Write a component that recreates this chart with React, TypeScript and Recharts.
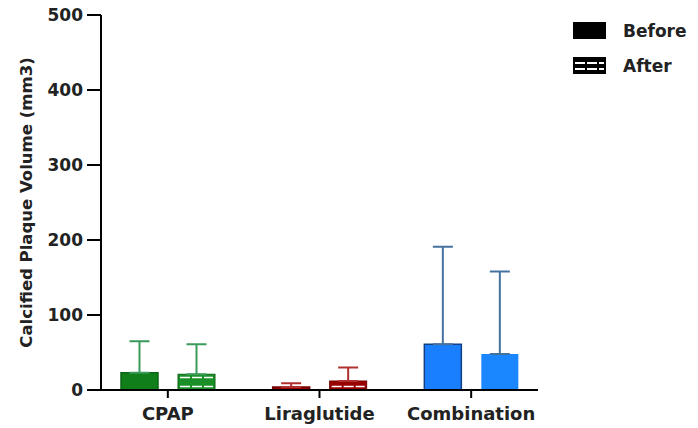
// @ts-nocheck
import { BarChart, Bar, XAxis, YAxis, ErrorBar, Cell } from "recharts"

const categories = ["CPAP", "Liraglutide", "Combination"]
const beforeMean = [23, 4, 61]
const beforeSd = [42, 5, 130]
const afterMean = [21, 12, 48]
const afterSd = [40, 18, 110]
const yTicks = [0, 100, 200, 300, 400, 500]

const fills = ["#107f1a", "#990000", "#1a7fff"]
const borders = ["#0c6614", "#730000", "#123f85"]
const afterFills = ["#1a8f28", "#9a0000", "#1a86ff"]
const errColors = ["#3a9a5a", "#b03030", "#44729f"]

const FONT = "'DejaVu Sans', sans-serif"

const data = categories.map((name, i) => ({
  name,
  before: beforeMean[i],
  after: afterMean[i],
  beforeErr: [0, beforeSd[i]],
  afterErr: [0, afterSd[i]],
}))

// hatched "After" bar: solid fill with white dashed horizontals
function AfterShape(props) {
  const { x, y, width, height, index } = props
  if (height == null || height <= 0) return null
  const striped = index !== 2
  const lines = []
  if (striped) {
    for (let ly = y + height - 3.5; ly > y + 2; ly -= 9) {
      lines.push(
        <line key={ly} x1={x + 2} x2={x + width - 2} y1={ly} y2={ly}
          stroke="#ffffff" strokeWidth={1.6} strokeDasharray="10 2" />
      )
    }
  }
  return (
    <g>
      <rect x={x} y={y} width={width} height={height} fill={afterFills[index]}
        stroke={striped ? borders[index] : "none"} strokeWidth={1} />
      {lines}
    </g>
  )
}

function LegendBox() {
  return (
    <div style={{ position: "absolute", left: 573, top: 22, fontFamily: FONT, fontSize: 17, color: "#222", fontWeight: "bold" }}>
      <div style={{ display: "flex", alignItems: "center", height: 17 }}>
        <svg width={33} height={17}><rect x={0} y={0} width={33} height={17} fill="#000" /></svg>
        <span style={{ marginLeft: 17 }}>Before</span>
      </div>
      <div style={{ display: "flex", alignItems: "center", height: 17, marginTop: 18 }}>
        <svg width={33} height={17}>
          <rect x={0} y={0} width={33} height={17} fill="#000" />
          <line x1={2} x2={31} y1={6} y2={6} stroke="#fff" strokeWidth={1.8} strokeDasharray="10 2" />
          <line x1={2} x2={31} y1={12} y2={12} stroke="#fff" strokeWidth={1.8} strokeDasharray="10 2" />
        </svg>
        <span style={{ marginLeft: 17 }}>After</span>
      </div>
    </div>
  )
}

export default function App() {
  return (
    <div style={{ position: "absolute", left: 0, top: 0, width: 698, height: 428, background: "#fff" }}>
      <BarChart
        width={698}
        height={428}
        data={data}
        margin={{ top: 15, right: 160, left: 0, bottom: 8 }}
        barCategoryGap={29}
        barGap={20}
      >
        <XAxis
          dataKey="name"
          padding={{ left: -9, right: -9 }}
          axisLine={{ stroke: "#000", strokeWidth: 2 }}
          tickLine={{ stroke: "#000", strokeWidth: 2 }}
          tickSize={8}
          tickMargin={9}
          height={30}
          tick={{ fill: "#222", fontSize: 18, fontWeight: "bold", fontFamily: FONT }}
        />
        <YAxis
          domain={[0, 500]}
          ticks={yTicks}
          width={101}
          axisLine={{ stroke: "#000", strokeWidth: 2 }}
          tickLine={{ stroke: "#000", strokeWidth: 2 }}
          tickSize={14}
          tickMargin={4}
          tick={{ fill: "#222", fontSize: 17, fontWeight: "bold", fontFamily: FONT }}
          label={{
            value: "Calcified Plaque Volume (mm3)",
            angle: -90,
            position: "insideLeft",
            offset: 26,
            style: { textAnchor: "middle", fill: "#222", fontSize: 16.5, fontWeight: "bold", fontFamily: FONT },
          }}
        />
        <Bar dataKey="before" isAnimationActive={false} strokeWidth={1.5}>
          {categories.map((c, i) => (
            <Cell key={c} fill={fills[i]} stroke={borders[i]} />
          ))}
          {categories.map((c, i) => (
            <ErrorBar
              key={c}
              dataKey={(d) => (d.name === c ? d.beforeErr : null)}
              width={10}
              stroke={errColors[i]}
              strokeWidth={2}
              isAnimationActive={false}
            />
          ))}
        </Bar>
        <Bar dataKey="after" isAnimationActive={false} shape={<AfterShape />}>
          {categories.map((c, i) => (
            <ErrorBar
              key={c}
              dataKey={(d) => (d.name === c ? d.afterErr : null)}
              width={10}
              stroke={errColors[i]}
              strokeWidth={2}
              isAnimationActive={false}
            />
          ))}
        </Bar>
      </BarChart>
      <LegendBox />
    </div>
  )
}
